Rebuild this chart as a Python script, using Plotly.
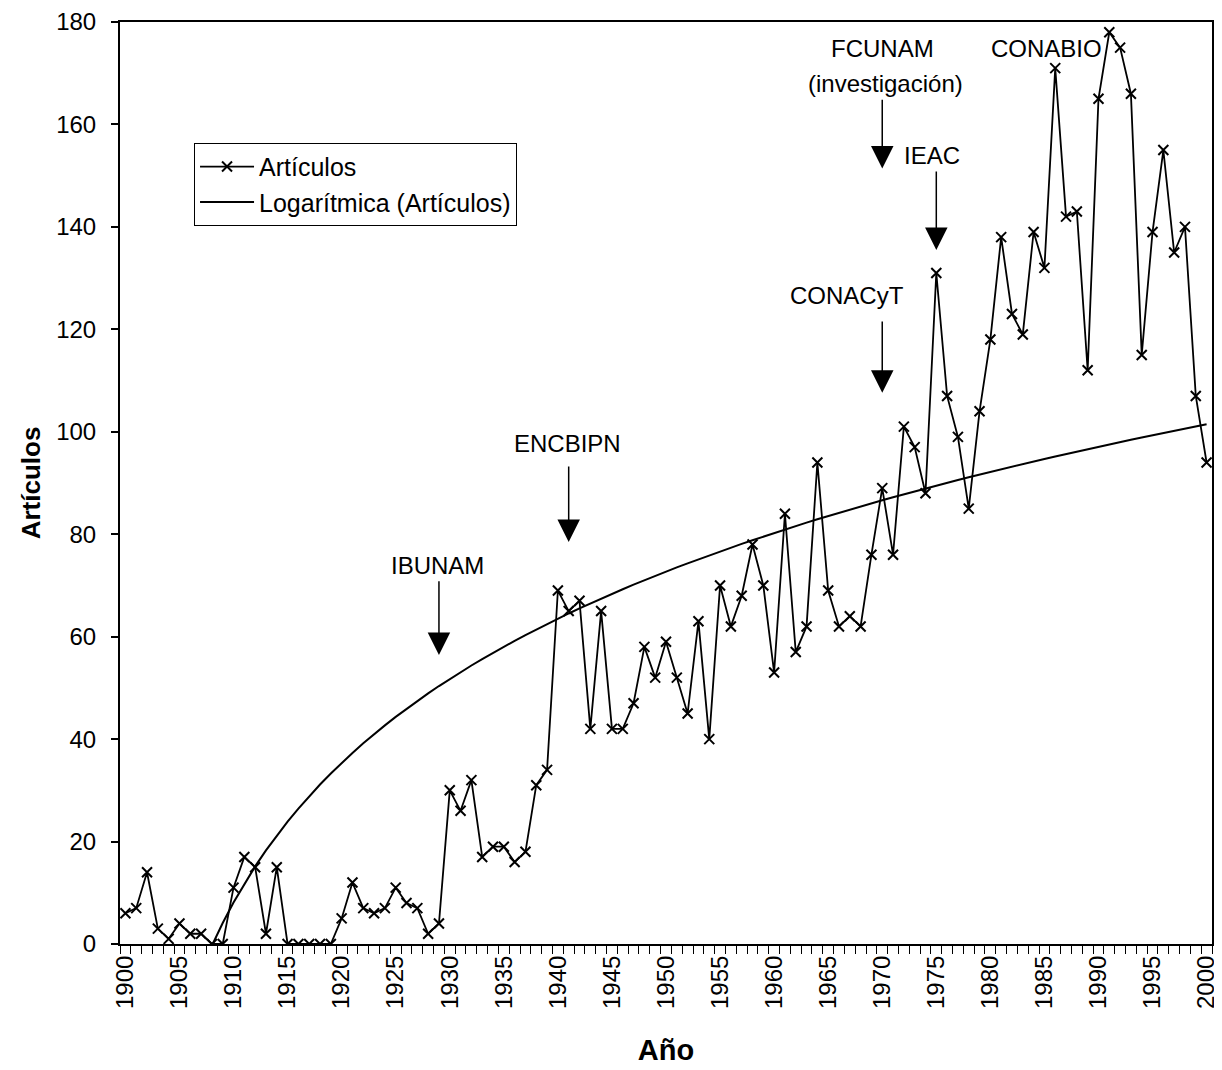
import numpy as np
import plotly.graph_objects as go

years = list(range(1900, 2001))
articulos = [
    6, 7, 14, 3, 1, 4, 2, 2, 0, 0,            # 1900-1909
    11, 17, 15, 2, 15, 0, 0, 0, 0, 0,         # 1910-1919
    5, 12, 7, 6, 7, 11, 8, 7, 2, 4,           # 1920-1929
    30, 26, 32, 17, 19, 19, 16, 18, 31, 34,   # 1930-1939
    69, 65, 67, 42, 65, 42, 42, 47, 58, 52,   # 1940-1949
    59, 52, 45, 63, 40, 70, 62, 68, 78, 70,   # 1950-1959
    53, 84, 57, 62, 94, 69, 62, 64, 62, 76,   # 1960-1969
    89, 76, 101, 97, 88, 131, 107, 99, 85, 104,  # 1970-1979
    118, 138, 123, 119, 139, 132, 171, 142, 143, 112,  # 1980-1989
    165, 178, 175, 166, 115, 139, 155, 135, 140, 107,  # 1990-1999
    94,                                        # 2000
]

tick_years = list(range(1900, 2001, 5))

# logarithmic trendline (Excel style: x = 1..n)
idx = np.arange(1, len(years) + 1)
a, b = np.polyfit(np.log(idx), np.array(articulos, dtype=float), 1)
trend = a * np.log(idx) + b

FONT = "Liberation Sans, Arial, sans-serif"

fig = go.Figure()
fig.add_trace(go.Scatter(
    x=years, y=articulos, mode="lines+markers", name="Artículos",
    line=dict(color="black", width=1.8),
    marker=dict(symbol="x-thin", size=10, color="black",
                line=dict(color="black", width=2)),
))
fig.add_trace(go.Scatter(
    x=years, y=trend, mode="lines", name="Logarítmica (Artículos)",
    line=dict(color="black", width=2),
))

# labels and arrows: (text, text_x, text_y, arrow_x, tail_y, tip_y)
events = [
    ("IBUNAM", 1928.9, 73.8, 1929, 71.1, 56.4),
    ("ENCBIPN", 1940.9, 97.8, 1941, 93.5, 78.5),
    ("CONACyT", 1966.7, 126.7, 1970, 121.8, 107.6),
    ("FCUNAM", 1970.0, 174.9, 1970, 165.1, 151.4),
    ("IEAC", 1974.6, 154.0, 1975, 151.1, 135.5),
]
for text, tx, ty, axx, tail, tip in events:
    fig.add_annotation(x=tx, y=ty, text=text, showarrow=False,
                       font=dict(size=24, color="black", family=FONT))
    fig.add_annotation(x=axx, y=tip, ax=axx, ay=tail, axref="x", ayref="y",
                       text="", showarrow=True, arrowhead=2, arrowsize=3,
                       arrowwidth=1.5, arrowcolor="black")
fig.add_annotation(x=1970.3, y=168.0, text="(investigación)", showarrow=False,
                   font=dict(size=24, color="black", family=FONT))
fig.add_annotation(x=1985.2, y=174.8, text="CONABIO", showarrow=False,
                   font=dict(size=24, color="black", family=FONT))

fig.update_layout(
    width=1214, height=1062,
    margin=dict(l=112, r=10, t=14, b=126),
    paper_bgcolor="white", plot_bgcolor="white",
    font=dict(family=FONT, size=23, color="black"),
    showlegend=True,
    legend=dict(x=0.0678, y=0.869, xanchor="left", yanchor="top",
                bgcolor="white", bordercolor="black", borderwidth=1,
                font=dict(size=25), tracegroupgap=0, itemwidth=54),
    xaxis=dict(
        range=[1899.5, 2000.5], tickmode="array", tickvals=tick_years,
        ticktext=[str(y) for y in tick_years], tickangle=-90,
        ticks="outside", ticklen=0, showgrid=False, automargin=False,
        showline=True, linecolor="black", linewidth=2, mirror=True,
        minor=dict(tickmode="linear", tick0=1899.5, dtick=1, ticks="outside",
                   ticklen=8, tickcolor="black", tickwidth=1, showgrid=False),
        tickfont=dict(size=24),
        title=dict(text="<b>Año</b>", font=dict(size=29), standoff=32),
    ),
    yaxis=dict(
        range=[0, 180], tickmode="linear", tick0=0, dtick=20,
        ticks="outside", ticklen=7, tickcolor="black", tickwidth=1.5,
        showgrid=False, zeroline=False, automargin=False,
        showline=True, linecolor="black", linewidth=2, mirror=True,
        tickfont=dict(size=24), ticklabelstandoff=10,
        title=dict(text="<b>Artículos</b>", font=dict(size=26), standoff=8),
    ),
)

fig.write_html("out.html")
